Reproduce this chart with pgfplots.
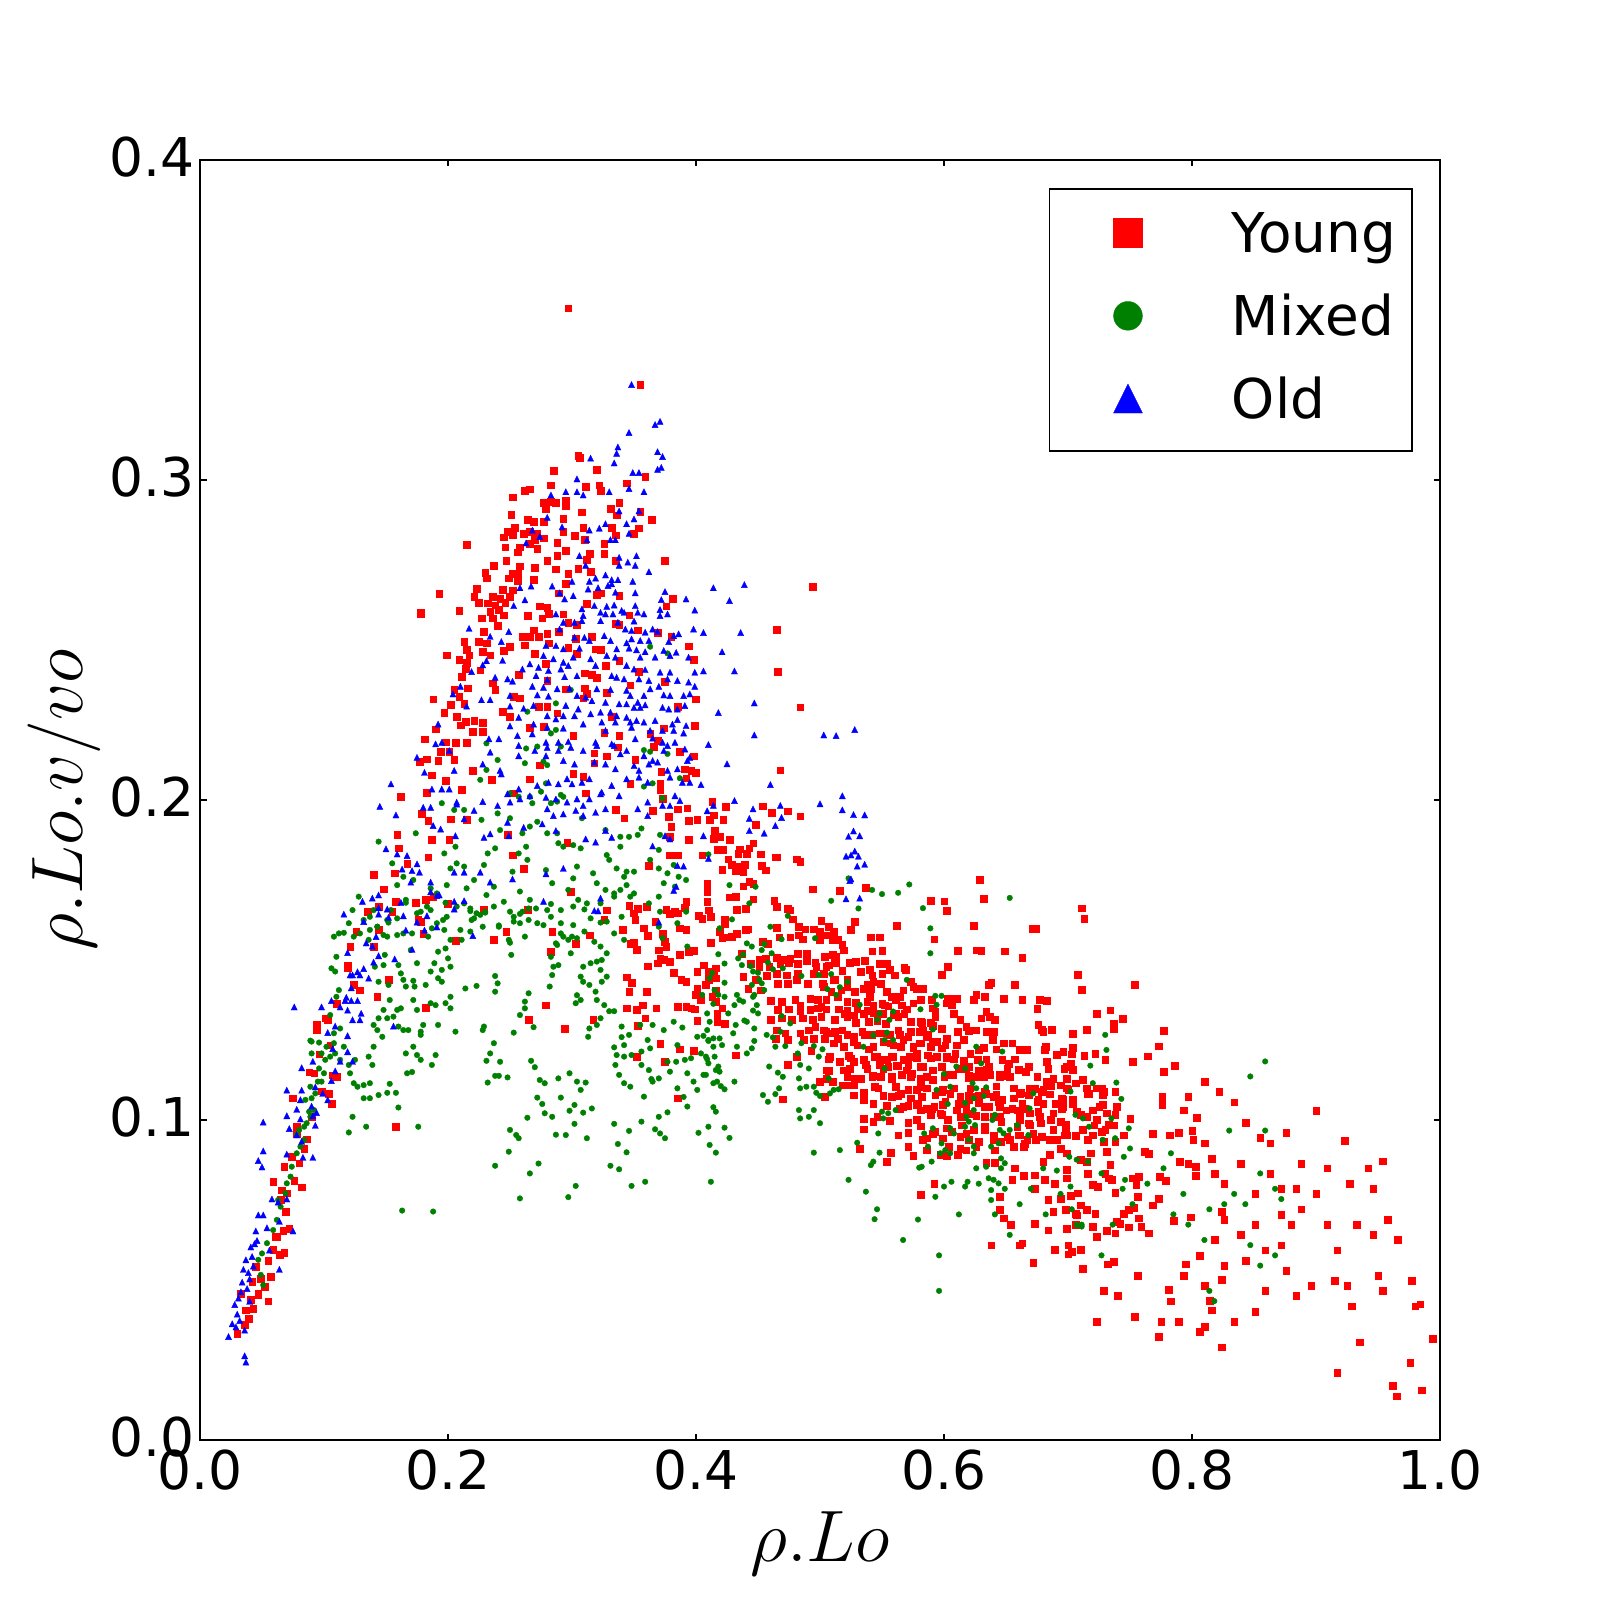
\documentclass[border=0pt]{standalone}
\usepackage{fontspec}
\setmainfont{DejaVu Sans}
\usepackage{pgfplots}
\pgfplotsset{compat=1.18}
\definecolor{mygreen}{rgb}{0,0.5,0}
\pgfplotsset{mylegimg/.style={legend image code/.code={\path[draw=none,fill=none] (-6.25mm,-2.8mm) rectangle (1.5mm,2.0mm); \draw[##1] plot coordinates {(0mm,0mm)};}}}
\begin{document}
\begin{tikzpicture}
\useasboundingbox (0,0) rectangle (16cm,16cm);
\begin{axis}[
 at={(2cm,1.6cm)}, anchor=south west, scale only axis, width=12.4cm, height=12.8cm,
 xmin=0, xmax=1, ymin=0, ymax=0.4,
 xtick={0,0.2,0.4,0.6,0.8,1}, ytick={0,0.1,0.2,0.3,0.4},
 minor tick num=0, tick align=inside, major tick length=0.65mm,
 every tick/.style={black, line width=0.3pt},
 ticklabel style={font=\fontsize{15.2}{18}\selectfont},
 /pgf/number format/assume math mode=true,
 xticklabel style={/pgf/number format/fixed, /pgf/number format/fixed zerofill, /pgf/number format/precision=1, inner ysep=0.9mm},
 yticklabel style={/pgf/number format/fixed, /pgf/number format/fixed zerofill, /pgf/number format/precision=1, inner xsep=0.5mm, yshift=0.3mm},
 xlabel={$\rho.Lo$}, ylabel={$\rho.Lo.v/vo$},
 label style={font=\fontsize{20.74}{25}\selectfont},
 xlabel style={at={(axis description cs:0.5,-0.0953)}, anchor=base},
 ylabel style={at={(axis description cs:-0.0944,0.5)}, anchor=base},
 legend style={at={(0.978,0.978)}, anchor=north east, draw=black, font=\fontsize{15.6}{18}\selectfont,
   inner xsep=1.6mm, inner ysep=2.4mm, row sep=3.5mm, column sep=8.9mm,
   nodes={inner sep=0pt, text height=3.9mm, text depth=0pt}},
 legend cell align=left,
 legend entries={Young,Mixed,Old},
]
\addlegendimage{only marks, mark=square*, mark size=4.1pt, red, mark options={draw=red, fill=red, line width=0.1pt}, mylegimg}
\addlegendimage{only marks, mark=*, mark size=4.1pt, mygreen, mark options={draw=mygreen, fill=mygreen, line width=0.1pt}, mylegimg}
\addlegendimage{only marks, mark=triangle*, mark size=4.76pt, blue, mark options={draw=blue, fill=blue, line width=0.1pt, yshift=-0.45mm, yscale=1.155}, mylegimg}

% Young
\addplot[forget plot, only marks, mark=square*, mark size=0.95pt, red, mark options={draw=red, fill=red, line width=0.1pt}] coordinates {
(0.306,0.307)(0.285,0.303)(0.359,0.301)(0.311,0.298)(0.322,0.2984)(0.323,0.2967)(0.283,0.2984)(0.344,0.299)(0.266,0.2971)(0.262,0.2967)(0.252,0.2946)(0.277,0.2929)(0.283,0.2932)(0.287,0.2929)(0.295,0.2935)(0.295,0.2919)(0.279,0.2911)(0.338,0.2929)(0.331,0.2911)(0.308,0.2899)(0.355,0.29)(0.251,0.2891)(0.336,0.289)(0.293,0.288)(0.364,0.2877)(0.277,0.287)(0.264,0.2877)(0.269,0.287)(0.332,0.2852)(0.309,0.2852)(0.354,0.2849)(0.248,0.2839)(0.254,0.2852)(0.261,0.2833)(0.266,0.2839)(0.272,0.2833)(0.293,0.2839)(0.302,0.2825)(0.335,0.2828)(0.350,0.2833)(0.245,0.2821)(0.252,0.2828)(0.270,0.2813)(0.277,0.2818)(0.288,0.2804)(0.310,0.2813)(0.326,0.28)(0.215,0.2797)(0.246,0.279)(0.258,0.279)(0.266,0.2802)(0.272,0.2785)(0.314,0.2769)(0.295,0.2779)(0.256,0.2774)(0.288,0.2763)(0.326,0.2769)(0.312,0.275)(0.335,0.2748)(0.375,0.2748)(0.247,0.2747)(0.280,0.2747)(0.258,0.2731)(0.237,0.2732)(0.270,0.2727)(0.287,0.2721)(0.305,0.2722)(0.315,0.2714)(0.230,0.271)(0.252,0.2708)(0.256,0.2708)(0.297,0.2708)(0.231,0.2693)(0.249,0.2693)(0.256,0.2685)(0.269,0.2688)(0.295,0.2677)(0.223,0.2661)(0.244,0.2658)(0.252,0.2656)(0.289,0.2646)(0.320,0.2641)(0.338,0.2638)(0.193,0.2644)(0.221,0.2635)(0.236,0.2635)(0.242,0.263)(0.250,0.2635)(0.323,0.2646)(0.381,0.263)(0.225,0.2617)(0.232,0.2615)(0.238,0.2609)(0.246,0.2617)(0.274,0.2606)(0.280,0.2602)(0.312,0.2613)(0.376,0.2606)(0.209,0.2592)(0.234,0.2589)(0.241,0.2594)(0.281,0.2583)(0.293,0.2581)(0.346,0.2578)(0.178,0.2583)(0.227,0.2568)(0.236,0.2568)(0.245,0.2578)(0.264,0.2575)(0.276,0.2568)(0.297,0.2554)(0.304,0.2547)(0.335,0.2552)(0.338,0.2547)(0.240,0.2544)(0.269,0.2531)(0.229,0.2526)(0.369,0.2523)(0.353,0.2531)(0.260,0.251)(0.266,0.251)(0.273,0.251)(0.280,0.2519)(0.289,0.2526)(0.303,0.2505)(0.316,0.251)(0.380,0.251)(0.213,0.2495)(0.225,0.2495)(0.231,0.249)(0.250,0.2479)(0.262,0.2484)(0.281,0.249)(0.297,0.2477)(0.319,0.2471)(0.394,0.2481)(0.215,0.2469)(0.228,0.2464)(0.245,0.2466)(0.304,0.2458)(0.323,0.2469)(0.199,0.2453)(0.217,0.2453)(0.234,0.2453)(0.270,0.2458)(0.338,0.2435)(0.398,0.2439)(0.209,0.2438)(0.215,0.2429)(0.279,0.2427)(0.327,0.2419)(0.354,0.2401)(0.214,0.2411)(0.226,0.2406)(0.211,0.2385)(0.310,0.2396)(0.316,0.2391)(0.320,0.2383)(0.347,0.2359)(0.375,0.237)(0.236,0.2365)(0.238,0.2344)(0.257,0.2391)(0.280,0.2373)(0.295,0.2346)(0.310,0.2349)(0.205,0.2344)(0.209,0.2323)(0.216,0.2349)(0.188,0.2315)(0.213,0.2302)(0.253,0.2323)(0.258,0.2318)(0.312,0.2333)(0.309,0.2318)(0.328,0.2335)(0.400,0.2315)(0.202,0.2297)(0.273,0.2292)(0.280,0.2292)(0.288,0.2271)(0.385,0.2292)(0.197,0.2273)(0.207,0.226)(0.244,0.2276)(0.250,0.226)(0.332,0.226)(0.214,0.2245)(0.221,0.2248)(0.228,0.2242)(0.266,0.2227)(0.277,0.2229)(0.374,0.2224)(0.399,0.2233)(0.210,0.2234)(0.220,0.2214)(0.228,0.2214)(0.326,0.221)(0.363,0.2208)(0.190,0.2221)(0.181,0.219)(0.301,0.22)(0.338,0.22)(0.369,0.2185)(0.198,0.2181)(0.206,0.2179)(0.215,0.2179)(0.194,0.2151)(0.201,0.2151)(0.318,0.2146)(0.337,0.2165)(0.366,0.2167)(0.387,0.2151)(0.398,0.2137)(0.183,0.2128)(0.192,0.2123)(0.205,0.2125)(0.274,0.2109)(0.318,0.2115)(0.328,0.2137)(0.351,0.2125)(0.391,0.2096)(0.396,0.2092)(0.177,0.212)(0.220,0.2092)(0.235,0.2063)(0.301,0.2083)(0.309,0.2073)(0.372,0.2089)(0.400,0.2085)(0.392,0.2068)(0.187,0.2078)(0.198,0.206)(0.266,0.2065)(0.347,0.2052)(0.371,0.2031)(0.183,0.2023)(0.211,0.2033)(0.253,0.2021)(0.311,0.2021)(0.371,0.2052)(0.162,0.201)(0.373,0.2005)(0.385,0.1971)(0.393,0.1974)(0.401,0.1938)(0.179,0.1958)(0.184,0.1935)(0.202,0.194)(0.215,0.1938)(0.335,0.1969)(0.365,0.1967)(0.378,0.1948)(0.342,0.1943)(0.394,0.1935)(0.380,0.1917)(0.159,0.1891)(0.187,0.1875)(0.201,0.1877)(0.248,0.1891)(0.296,0.1867)(0.394,0.1875)(0.379,0.1885)(0.160,0.1849)(0.167,0.1802)(0.184,0.1821)(0.252,0.1828)(0.379,0.1828)(0.385,0.1828)(0.140,0.1766)(0.157,0.1771)(0.261,0.1786)(0.362,0.1794)(0.148,0.1721)(0.182,0.1688)(0.188,0.1698)(0.200,0.1677)(0.264,0.1658)(0.299,0.1714)(0.376,0.1658)(0.383,0.1651)(0.391,0.1664)(0.144,0.1594)(0.155,0.1651)(0.176,0.1625)(0.237,0.1563)(0.284,0.1589)(0.314,0.1578)(0.347,0.1552)(0.392,0.1594)(0.140,0.1542)
(0.297,0.3537)(0.355,0.3298)(0.305,0.3075)(0.320,0.3033)(0.494,0.2667)(0.465,0.2533)(0.466,0.240)(0.484,0.229)(0.468,0.2093)(0.474,0.1965)(0.484,0.1949)(0.464,0.1821)(0.178,0.2587)
(0.030,0.0333)(0.033,0.0458)(0.037,0.0406)(0.041,0.0438)(0.039,0.038)(0.047,0.0458)(0.042,0.0495)(0.049,0.0505)(0.045,0.0542)(0.055,0.0434)(0.057,0.051)(0.059,0.0594)(0.068,0.0586)(0.067,0.0654)(0.062,0.0635)(0.059,0.0807)(0.066,0.0781)(0.069,0.0714)(0.070,0.0771)(0.065,0.075)(0.068,0.0854)(0.074,0.0885)(0.080,0.0865)(0.078,0.0958)(0.084,0.0911)(0.075,0.1068)(0.078,0.0979)(0.092,0.1146)(0.088,0.1149)(0.096,0.1206)(0.106,0.1052)(0.110,0.1135)(0.104,0.1083)(0.107,0.114)(0.094,0.1297)(0.094,0.1281)(0.103,0.1313)(0.101,0.1318)(0.105,0.1234)(0.110,0.1363)(0.121,0.1542)(0.119,0.1484)(0.119,0.1474)(0.129,0.1406)(0.124,0.1422)(0.143,0.1385)(0.152,0.1438)(0.126,0.1589)(0.135,0.1651)(0.144,0.1667)(0.158,0.1682)(0.174,0.1679)(0.178,0.162)(0.180,0.1583)(0.206,0.156)(0.158,0.0979)(0.182,0.1352)(0.229,0.1658)(0.247,0.1589)(0.279,0.1359)(0.265,0.1313)(0.294,0.1286)(0.283,0.1526)(0.303,0.1552)(0.328,0.1656)(0.326,0.1627)(0.317,0.1313)
(0.061,0.0635)(0.055,0.056)(0.047,0.0453)(0.036,0.036)(0.043,0.041)(0.052,0.048)(0.064,0.058)(0.072,0.066)(0.076,0.081)(0.082,0.079)(0.086,0.094)(0.090,0.101)(0.098,0.109)
(0.346,0.1669)(0.353,0.1661)(0.360,0.1667)(0.350,0.1646)(0.351,0.1625)(0.358,0.1599)(0.367,0.162)(0.379,0.1644)(0.385,0.1646)(0.392,0.1682)(0.402,0.1638)(0.405,0.163)(0.387,0.1599)(0.373,0.1583)(0.361,0.1575)(0.341,0.1594)(0.350,0.1554)(0.352,0.1533)(0.370,0.1531)(0.375,0.1557)(0.376,0.1542)(0.371,0.1505)(0.369,0.149)(0.374,0.15)(0.379,0.1495)(0.387,0.1516)(0.394,0.1526)(0.398,0.1529)(0.361,0.1481)(0.382,0.146)(0.406,0.1484)(0.410,0.1464)(0.416,0.1474)(0.401,0.1464)(0.344,0.1446)(0.348,0.1429)(0.388,0.1438)(0.392,0.1432)(0.408,0.1422)(0.414,0.145)(0.346,0.1401)(0.360,0.1401)(0.401,0.1411)(0.416,0.1406)(0.400,0.1391)(0.404,0.1375)(0.413,0.1385)(0.416,0.137)(0.344,0.1349)(0.352,0.1344)(0.368,0.1349)(0.357,0.1359)(0.385,0.1354)(0.392,0.1354)(0.396,0.1349)(0.399,0.1346)(0.417,0.1333)(0.359,0.1318)(0.401,0.131)(0.417,0.1307)(0.353,0.1294)(0.371,0.1238)(0.387,0.1221)(0.398,0.1217)(0.352,0.1198)(0.375,0.1182)(0.385,0.1068)
(0.413,0.1995)(0.424,0.1979)(0.454,0.1981)(0.461,0.196)(0.414,0.1953)(0.422,0.1938)(0.411,0.1938)(0.448,0.1922)(0.415,0.1904)(0.419,0.1885)(0.414,0.188)(0.427,0.1877)(0.446,0.1865)(0.443,0.1849)(0.435,0.1846)(0.422,0.1844)(0.417,0.1844)(0.441,0.1833)(0.434,0.1833)(0.452,0.1831)(0.405,0.1828)(0.426,0.1815)(0.465,0.1821)(0.481,0.1815)(0.484,0.1807)(0.429,0.1797)(0.439,0.1797)(0.433,0.1792)(0.453,0.1794)(0.421,0.1783)(0.432,0.1779)(0.438,0.1776)(0.456,0.1781)(0.409,0.1738)(0.443,0.1745)(0.446,0.1738)(0.438,0.1731)(0.494,0.1721)(0.516,0.1717)(0.537,0.1727)(0.409,0.1714)(0.427,0.1696)(0.432,0.1698)(0.446,0.169)(0.463,0.1685)(0.465,0.1667)(0.409,0.1682)(0.410,0.1656)(0.433,0.1658)(0.440,0.1661)(0.412,0.1635)(0.474,0.1661)(0.476,0.1656)(0.423,0.1625)(0.478,0.1628)(0.501,0.1623)(0.423,0.1613)(0.440,0.1594)(0.442,0.1596)(0.465,0.1601)(0.483,0.1604)(0.488,0.1596)(0.495,0.1596)(0.507,0.1604)(0.525,0.1594)(0.562,0.1608)(0.589,0.1685)(0.602,0.1654)(0.629,0.175)(0.632,0.1692)
(0.419,0.1589)(0.421,0.1568)(0.425,0.1571)(0.429,0.1573)(0.433,0.1583)(0.412,0.1554)(0.454,0.1557)(0.458,0.1552)(0.467,0.1571)(0.476,0.1571)(0.483,0.1578)(0.486,0.1565)(0.500,0.1589)(0.505,0.1578)(0.511,0.1589)(0.500,0.1563)(0.510,0.1563)(0.514,0.1563)(0.541,0.1571)(0.548,0.1571)(0.518,0.1547)(0.519,0.1531)(0.550,0.1529)(0.592,0.1565)(0.611,0.1529)(0.626,0.1531)(0.630,0.1529)(0.663,0.1508)(0.437,0.1519)(0.451,0.15)(0.456,0.1505)(0.465,0.1508)(0.470,0.1502)(0.476,0.1505)(0.482,0.1519)(0.489,0.1521)(0.496,0.1492)(0.504,0.151)(0.510,0.1516)(0.513,0.151)(0.444,0.1489)(0.451,0.1479)(0.459,0.1479)(0.468,0.1488)(0.475,0.1492)(0.482,0.1489)(0.489,0.1498)(0.497,0.1479)(0.507,0.1484)(0.512,0.1495)(0.524,0.1492)(0.529,0.1495)(0.536,0.1498)(0.568,0.1477)(0.603,0.1479)(0.438,0.1448)(0.448,0.1438)(0.457,0.145)(0.465,0.1458)(0.473,0.1453)(0.482,0.1458)(0.495,0.1458)(0.503,0.1458)(0.518,0.1467)(0.533,0.1464)(0.540,0.1469)(0.550,0.1458)(0.556,0.1469)(0.569,0.1469)(0.543,0.1432)(0.573,0.1432)(0.598,0.1455)(0.636,0.1422)(0.638,0.1429)(0.657,0.1422)(0.410,0.1438)(0.416,0.1443)(0.442,0.1411)(0.452,0.1406)(0.466,0.1425)(0.474,0.1425)(0.481,0.1438)(0.490,0.1427)(0.502,0.1427)(0.511,0.1438)(0.522,0.1417)(0.535,0.1411)(0.541,0.1411)(0.558,0.1385)(0.564,0.1385)(0.578,0.1411)(0.603,0.138)(0.608,0.138)(0.624,0.1375)(0.633,0.1385)(0.648,0.138)(0.663,0.1377)(0.677,0.1377)(0.683,0.1372)(0.675,0.1347)
(0.460,0.1373)(0.469,0.137)(0.480,0.1375)(0.484,0.1359)(0.492,0.138)(0.498,0.1375)(0.505,0.1375)(0.514,0.1385)(0.522,0.137)(0.529,0.1367)(0.538,0.137)(0.543,0.1359)(0.550,0.1363)(0.555,0.1356)(0.566,0.1359)(0.575,0.1365)(0.421,0.1349)(0.466,0.1344)(0.475,0.1346)(0.484,0.1342)(0.492,0.1344)(0.498,0.1349)(0.505,0.1346)(0.515,0.1346)(0.522,0.1342)(0.530,0.1346)(0.538,0.1342)(0.543,0.1335)(0.551,0.1333)(0.559,0.1328)(0.568,0.1333)(0.593,0.1339)(0.608,0.1333)(0.630,0.1318)(0.637,0.1323)(0.737,0.1302)(0.460,0.1313)(0.469,0.1318)(0.477,0.1313)(0.486,0.1318)(0.494,0.1313)(0.501,0.1323)(0.512,0.1313)(0.522,0.1321)(0.529,0.1304)(0.539,0.1307)(0.546,0.131)(0.553,0.13)(0.563,0.1323)(0.573,0.1307)(0.582,0.1304)(0.589,0.1304)(0.598,0.1286)(0.618,0.1292)(0.620,0.1279)(0.679,0.1283)(0.687,0.1283)(0.423,0.1302)(0.465,0.1281)(0.472,0.1271)(0.484,0.1271)(0.491,0.1281)(0.496,0.1292)(0.503,0.1281)(0.508,0.1271)(0.518,0.1281)(0.527,0.126)(0.536,0.1266)(0.548,0.1271)(0.556,0.1266)(0.564,0.1266)(0.571,0.126)(0.580,0.1276)(0.587,0.1266)(0.464,0.1255)(0.474,0.1252)(0.487,0.125)(0.495,0.1255)(0.504,0.1255)(0.514,0.1255)(0.519,0.1229)(0.530,0.1234)(0.539,0.1221)(0.551,0.1245)(0.559,0.1234)(0.567,0.125)(0.575,0.1231)(0.580,0.124)(0.589,0.1229)(0.598,0.1224)(0.610,0.1234)(0.632,0.1227)(0.642,0.1221)(0.648,0.124)(0.655,0.124)(0.667,0.1219)(0.682,0.1229)(0.696,0.1214)(0.704,0.1227)
(0.432,0.1203)(0.481,0.1198)(0.493,0.1216)(0.507,0.119)(0.523,0.12)(0.527,0.1182)(0.544,0.1198)(0.548,0.1188)(0.559,0.1198)(0.567,0.1188)(0.572,0.1198)(0.578,0.1208)(0.589,0.1193)(0.594,0.1198)(0.602,0.1198)(0.608,0.119)(0.616,0.1185)(0.627,0.1188)(0.652,0.1175)(0.683,0.1182)(0.702,0.1177)(0.703,0.1206)(0.704,0.1158)(0.474,0.1172)(0.507,0.1154)(0.537,0.1172)(0.551,0.1161)(0.562,0.1169)(0.570,0.1156)(0.581,0.1167)(0.591,0.1156)(0.598,0.1167)(0.612,0.1161)(0.620,0.1167)(0.634,0.1158)(0.660,0.1158)(0.666,0.1151)(0.786,0.1169)(0.533,0.113)(0.543,0.1138)(0.549,0.1135)(0.558,0.113)(0.566,0.1141)(0.574,0.1144)(0.586,0.1135)(0.591,0.1127)(0.600,0.1135)(0.607,0.1141)(0.620,0.1133)(0.637,0.1141)(0.645,0.1135)(0.651,0.1138)(0.675,0.1135)(0.683,0.112)(0.694,0.1109)(0.699,0.1099)(0.706,0.1115)(0.712,0.1127)(0.723,0.1099)(0.727,0.1099)(0.776,0.1073)(0.776,0.1047)(0.500,0.112)(0.510,0.112)(0.520,0.1109)(0.527,0.1109)(0.535,0.1085)(0.544,0.1104)(0.551,0.1075)(0.558,0.1073)(0.565,0.1083)(0.571,0.1094)(0.581,0.1104)(0.586,0.1099)(0.595,0.1089)(0.599,0.1094)(0.605,0.1083)(0.613,0.1073)(0.620,0.1075)(0.628,0.1078)(0.634,0.1083)(0.642,0.1081)(0.662,0.1085)(0.668,0.1078)(0.673,0.1097)(0.680,0.1094)(0.685,0.1081)(0.695,0.1068)(0.704,0.1063)(0.716,0.1083)(0.725,0.1042)
(0.535,0.1063)(0.554,0.1044)(0.564,0.1036)(0.571,0.1044)(0.579,0.1052)(0.586,0.1036)(0.592,0.1042)(0.599,0.1047)(0.612,0.1052)(0.618,0.1026)(0.628,0.1054)(0.636,0.1042)(0.644,0.1057)(0.650,0.1031)(0.655,0.1036)(0.669,0.1021)(0.676,0.1063)(0.688,0.1021)(0.695,0.1036)(0.720,0.1031)(0.728,0.1047)(0.793,0.1031)(0.535,0.1005)(0.543,0.0995)(0.556,0.0998)(0.571,0.0992)(0.578,0.1)(0.589,0.1016)(0.597,0.1021)(0.603,0.1)(0.613,0.101)(0.621,0.1019)(0.633,0.101)(0.640,0.101)(0.646,0.0995)(0.661,0.1)(0.668,0.099)(0.677,0.101)(0.694,0.0995)(0.710,0.1016)(0.723,0.1)(0.738,0.1016)(0.750,0.1005)(0.804,0.1008)(0.571,0.0917)(0.586,0.0943)(0.591,0.0958)(0.599,0.0943)(0.606,0.0964)(0.613,0.0948)(0.618,0.0958)(0.628,0.0932)(0.633,0.0979)(0.640,0.095)(0.646,0.0932)(0.653,0.0938)(0.661,0.0953)(0.665,0.0927)(0.672,0.0958)(0.679,0.0948)(0.685,0.0938)(0.691,0.0938)(0.699,0.0953)(0.706,0.095)(0.712,0.0969)(0.716,0.0938)(0.720,0.0953)(0.730,0.0969)(0.737,0.0984)(0.745,0.0953)(0.768,0.0958)(0.782,0.0953)(0.800,0.0966)(0.801,0.0938)
(0.575,0.0888)(0.557,0.0898)(0.554,0.087)(0.586,0.0906)(0.602,0.0888)(0.611,0.0891)(0.618,0.0906)(0.634,0.0867)(0.641,0.0867)(0.657,0.0849)(0.655,0.0813)(0.664,0.0825)(0.673,0.0828)(0.680,0.087)(0.681,0.0813)(0.689,0.0802)(0.694,0.0911)(0.699,0.0844)(0.699,0.0818)(0.710,0.0875)(0.715,0.087)(0.716,0.0833)(0.720,0.0797)(0.724,0.0792)(0.730,0.0833)(0.734,0.086)(0.733,0.0818)(0.735,0.0813)(0.752,0.0818)(0.755,0.0797)(0.762,0.0901)(0.765,0.0894)(0.757,0.0823)(0.774,0.0823)(0.779,0.081)(0.790,0.087)(0.803,0.0854)(0.803,0.0825)(0.816,0.088)(0.645,0.076)(0.673,0.0786)(0.684,0.075)(0.694,0.0755)(0.702,0.0763)(0.708,0.0771)(0.710,0.0734)(0.688,0.0714)(0.698,0.0719)(0.706,0.0708)(0.715,0.0719)(0.722,0.0708)(0.738,0.0773)(0.745,0.0708)(0.749,0.072)(0.753,0.0727)(0.756,0.076)(0.739,0.0682)(0.742,0.0677)(0.749,0.0665)(0.738,0.0646)(0.731,0.0654)(0.723,0.0635)(0.720,0.0667)(0.757,0.0693)(0.759,0.0667)(0.765,0.0646)(0.768,0.0734)(0.773,0.0755)(0.785,0.0685)(0.799,0.0696)(0.795,0.0549)(0.781,0.0469)(0.814,0.0435)(0.816,0.0406)(0.824,0.0714)(0.824,0.05)(0.699,0.0661)(0.707,0.0703)(0.706,0.0672)(0.700,0.0609)(0.710,0.0595)(0.703,0.0589)(0.689,0.0594)(0.700,0.0581)(0.672,0.0555)(0.684,0.0656)(0.673,0.0675)(0.661,0.0609)(0.663,0.0615)(0.654,0.0672)(0.648,0.0693)(0.638,0.0609)(0.712,0.0536)(0.732,0.0549)(0.737,0.0557)(0.645,0.0719)(0.532,0.0911)(0.581,0.0766)(0.597,0.0891)(0.592,0.0802)(0.470,0.1065)
(0.789,0.096)(0.797,0.0864)(0.810,0.0928)(0.818,0.0833)(0.826,0.0801)(0.839,0.0864)(0.851,0.0769)(0.863,0.0833)(0.851,0.0673)(0.839,0.0641)(0.826,0.0689)(0.818,0.0625)(0.806,0.0577)(0.793,0.0514)(0.810,0.0482)(0.826,0.0545)(0.843,0.0561)(0.859,0.0593)(0.872,0.0609)(0.876,0.053)(0.880,0.0673)(0.888,0.0721)(0.900,0.0769)(0.909,0.0849)(0.900,0.103)(0.909,0.0673)(0.917,0.0593)(0.925,0.0482)(0.896,0.0482)(0.884,0.045)(0.859,0.0466)(0.851,0.0402)(0.834,0.037)(0.810,0.0354)(0.806,0.0338)(0.824,0.029)(0.775,0.037)(0.773,0.0322)(0.789,0.037)(0.754,0.0386)(0.723,0.037)(0.729,0.0466)(0.740,0.045)(0.756,0.0514)(0.783,0.0434)(0.863,0.0928)(0.876,0.096)(0.888,0.0864)(0.884,0.0785)(0.872,0.0785)(0.872,0.0705)(0.855,0.0944)(0.843,0.0992)(0.834,0.1056)(0.822,0.1088)(0.810,0.112)(0.797,0.1072)(0.777,0.1152)(0.764,0.1199)(0.752,0.1183)(0.744,0.1317)(0.734,0.1343)(0.711,0.1407)(0.713,0.163)(0.711,0.1662)(0.674,0.1598)(0.649,0.1528)(0.708,0.1455)(0.754,0.1423)(0.773,0.1231)(0.777,0.1279)
(0.927,0.080)(0.933,0.0673)(0.942,0.0849)(0.946,0.0785)(0.946,0.0641)(0.958,0.0689)(0.966,0.0625)(0.950,0.0514)(0.915,0.0498)(0.929,0.0418)(0.954,0.0466)(0.935,0.0306)(0.917,0.0211)(0.962,0.0169)(0.965,0.0137)(0.985,0.0156)(0.976,0.0242)(0.980,0.0418)(0.984,0.0424)(0.977,0.0498)(0.994,0.0316)(0.923,0.0935)(0.954,0.0871)
(0.528,0.162)(0.542,0.1528)(0.600,0.1684)(0.624,0.1608)(0.671,0.1598)(0.591,0.1295)
(0.548,0.1488)(0.554,0.1488)(0.513,0.149)(0.505,0.1479)(0.560,0.1453)(0.542,0.1453)(0.522,0.1438)(0.512,0.1438)(0.538,0.1422)(0.549,0.1427)(0.528,0.14)(0.554,0.14)(0.567,0.1406)(0.575,0.1417)(0.583,0.1411)(0.503,0.1417)(0.509,0.14)(0.517,0.1406)(0.540,0.1385)(0.552,0.1359)(0.561,0.1377)(0.581,0.1375)(0.590,0.1377)(0.610,0.138)(0.626,0.1391)(0.602,0.1365)(0.606,0.1359)(0.591,0.1349)(0.501,0.1354)(0.520,0.1333)(0.527,0.1328)(0.535,0.1333)(0.548,0.1333)(0.561,0.1333)(0.570,0.1346)(0.581,0.1307)(0.593,0.1323)(0.613,0.1313)(0.634,0.1339)(0.641,0.1313)(0.505,0.1276)(0.512,0.1276)(0.522,0.1266)(0.534,0.1276)(0.542,0.1266)(0.551,0.1271)(0.563,0.1281)(0.573,0.1276)(0.583,0.1281)(0.586,0.126)(0.594,0.1245)(0.602,0.1255)(0.611,0.1276)(0.621,0.1281)(0.626,0.1281)(0.634,0.1276)(0.640,0.1276)(0.676,0.1297)(0.680,0.1276)(0.704,0.1269)(0.715,0.1283)(0.723,0.1333)(0.737,0.1286)(0.511,0.124)(0.527,0.1245)(0.543,0.1229)(0.557,0.124)(0.565,0.1229)(0.575,0.1224)(0.581,0.124)(0.591,0.1245)(0.601,0.1234)(0.616,0.125)(0.628,0.1219)(0.639,0.125)(0.661,0.1219)(0.681,0.1219)(0.691,0.1205)(0.508,0.1198)(0.516,0.1182)(0.525,0.1193)(0.535,0.1188)(0.546,0.1198)(0.554,0.1188)(0.558,0.1198)(0.578,0.1193)(0.587,0.1203)(0.602,0.1193)(0.609,0.1208)(0.621,0.1208)(0.634,0.119)(0.647,0.1188)(0.657,0.119)(0.668,0.1167)(0.699,0.1167)(0.713,0.12)(0.722,0.1208)(0.730,0.1188)
(0.505,0.1156)(0.519,0.1156)(0.524,0.1161)(0.538,0.1161)(0.548,0.1172)(0.555,0.1167)(0.563,0.1169)(0.571,0.1172)(0.583,0.1167)(0.591,0.1156)(0.618,0.1161)(0.628,0.1156)(0.636,0.1167)(0.651,0.1161)(0.684,0.1161)(0.697,0.1161)(0.505,0.113)(0.522,0.1135)(0.528,0.113)(0.542,0.1135)(0.558,0.1135)(0.573,0.1135)(0.581,0.113)(0.604,0.1141)(0.620,0.1138)(0.626,0.1135)(0.632,0.1135)(0.645,0.1141)(0.653,0.1135)(0.688,0.113)(0.699,0.113)(0.518,0.1109)(0.526,0.1109)(0.547,0.1099)(0.561,0.1104)(0.571,0.1094)(0.578,0.1094)(0.598,0.1089)(0.608,0.1099)(0.621,0.1099)(0.633,0.1089)(0.642,0.1106)(0.656,0.1099)(0.661,0.1083)(0.669,0.1099)(0.679,0.1089)(0.686,0.1106)(0.700,0.1094)(0.715,0.1099)(0.729,0.1089)(0.738,0.1089)(0.504,0.1073)(0.527,0.1078)(0.543,0.1052)(0.563,0.1075)(0.573,0.1068)(0.582,0.1073)(0.593,0.1078)(0.601,0.1057)(0.620,0.1063)(0.626,0.1073)(0.640,0.1073)(0.647,0.1063)(0.656,0.1068)(0.663,0.1052)(0.675,0.1057)(0.680,0.1052)(0.690,0.1052)(0.696,0.1063)(0.704,0.1052)(0.717,0.1083)(0.728,0.1078)(0.567,0.1042)(0.578,0.1047)(0.590,0.1036)(0.610,0.1031)(0.618,0.1042)(0.633,0.1042)(0.645,0.1042)(0.659,0.1031)(0.665,0.1036)(0.676,0.1026)(0.696,0.1042)(0.707,0.1026)(0.715,0.101)(0.731,0.1021)(0.739,0.1042)(0.546,0.101)(0.581,0.1031)(0.598,0.1016)(0.616,0.101)(0.626,0.1013)(0.645,0.101)(0.661,0.101)(0.686,0.1)(0.698,0.0986)(0.721,0.0984)(0.733,0.0986)(0.535,0.0971)(0.581,0.0981)(0.593,0.0964)(0.602,0.0974)(0.614,0.0984)(0.624,0.0969)(0.633,0.0969)(0.659,0.0979)(0.660,0.0953)(0.669,0.0984)(0.678,0.099)(0.688,0.0969)(0.698,0.0964)(0.727,0.0964)(0.563,0.0953)(0.571,0.096)(0.583,0.0938)(0.620,0.0938)(0.640,0.0938)(0.651,0.0948)(0.667,0.0938)(0.674,0.0938)(0.688,0.0938)(0.697,0.0953)(0.716,0.094)(0.729,0.0932)(0.738,0.0932)(0.604,0.0917)(0.613,0.0911)(0.626,0.0917)(0.641,0.0906)(0.656,0.0917)(0.664,0.0917)(0.685,0.0891)(0.699,0.0896)(0.718,0.0896)(0.731,0.0901)
};

% Mixed
\addplot[forget plot, only marks, mark=*, mark size=0.8pt, mygreen, mark options={draw=mygreen, fill=mygreen, line width=0.1pt}] coordinates {
(0.051,0.0484)(0.049,0.0516)(0.047,0.0563)(0.050,0.0583)(0.054,0.0615)(0.059,0.0656)(0.062,0.0688)(0.065,0.0729)(0.063,0.075)(0.069,0.0771)(0.070,0.0802)(0.073,0.0823)(0.074,0.0854)(0.078,0.0896)(0.081,0.0917)(0.084,0.0938)(0.078,0.0953)(0.080,0.0969)(0.084,0.0979)(0.086,0.099)(0.089,0.101)(0.088,0.1026)(0.092,0.1031)(0.085,0.1063)(0.090,0.1068)(0.093,0.1083)(0.089,0.1104)(0.095,0.112)(0.098,0.112)(0.100,0.1146)(0.096,0.1161)(0.101,0.1188)(0.105,0.1198)(0.098,0.1208)(0.102,0.1229)(0.108,0.124)(0.109,0.1208)(0.116,0.1229)(0.113,0.1188)(0.120,0.1172)(0.125,0.1188)(0.121,0.1146)(0.124,0.1115)(0.127,0.1104)(0.132,0.1109)(0.137,0.1115)(0.144,0.1078)(0.137,0.1068)(0.132,0.1068)(0.123,0.101)(0.120,0.0961)(0.134,0.0979)(0.160,0.1039)(0.176,0.0979)(0.163,0.0717)(0.090,0.1245)(0.096,0.1242)(0.089,0.1248)(0.090,0.1208)(0.108,0.1271)(0.113,0.1286)(0.105,0.1328)(0.110,0.1385)(0.112,0.1406)(0.109,0.1464)(0.106,0.1474)(0.110,0.151)(0.108,0.1573)(0.112,0.1583)(0.116,0.1585)(0.120,0.1615)(0.123,0.1656)(0.132,0.1625)(0.137,0.1635)(0.137,0.1594)(0.136,0.1563)(0.143,0.1604)(0.148,0.1578)(0.149,0.1516)(0.148,0.1484)(0.141,0.1479)(0.144,0.1432)(0.152,0.1422)(0.153,0.1375)(0.148,0.1344)(0.144,0.1318)(0.140,0.1297)(0.143,0.1281)(0.147,0.126)(0.140,0.1229)(0.136,0.1198)(0.139,0.1172)(0.151,0.1318)(0.156,0.1323)(0.159,0.1344)(0.162,0.1349)(0.160,0.1292)(0.164,0.1281)(0.168,0.1281)(0.178,0.1276)(0.180,0.1297)(0.178,0.1266)(0.172,0.1229)(0.166,0.1208)(0.175,0.1203)(0.178,0.1188)(0.190,0.1203)(0.187,0.1172)(0.171,0.115)(0.167,0.1146)(0.153,0.1113)(0.151,0.1085)(0.158,0.1085)(0.192,0.1297)(0.206,0.1276)(0.202,0.1349)(0.198,0.1365)(0.186,0.1365)(0.190,0.1359)(0.175,0.1344)(0.172,0.1375)(0.166,0.1417)(0.173,0.1417)(0.182,0.1422)(0.195,0.1432)(0.192,0.1443)(0.202,0.1385)(0.214,0.1411)(0.223,0.1419)(0.229,0.1292)(0.228,0.1281)(0.237,0.124)(0.234,0.1208)(0.231,0.1185)(0.242,0.1182)(0.238,0.1138)(0.241,0.1138)(0.248,0.1133)(0.232,0.1117)(0.238,0.145)(0.240,0.1427)(0.238,0.1401)(0.253,0.1273)(0.258,0.1328)(0.262,0.1349)(0.262,0.137)(0.265,0.1396)(0.269,0.129)(0.267,0.1185)(0.270,0.1165)(0.274,0.1125)(0.278,0.1115)(0.272,0.107)(0.276,0.105)(0.278,0.1021)(0.284,0.101)(0.291,0.107)(0.289,0.113)(0.298,0.1146)(0.304,0.112)(0.311,0.1117)(0.307,0.1094)(0.298,0.1029)(0.302,0.1047)(0.309,0.1023)(0.316,0.1036)(0.302,0.0988)(0.295,0.0953)(0.312,0.0943)(0.303,0.0794)(0.258,0.0755)(0.266,0.0833)(0.238,0.0857)(0.249,0.0901)(0.250,0.0969)(0.255,0.0953)(0.257,0.0943)(0.264,0.1007)(0.359,0.0807)(0.331,0.0857)(0.338,0.0846)(0.344,0.0899)(0.337,0.0925)(0.334,0.0988)(0.346,0.0966)(0.356,0.0995)(0.370,0.101)(0.367,0.0971)(0.371,0.0958)(0.375,0.0943)(0.411,0.0922)(0.416,0.0898)(0.416,0.1026)(0.393,0.1042)(0.385,0.1099)(0.379,0.1151)(0.393,0.1146)(0.401,0.1094)(0.406,0.1141)(0.414,0.1115)(0.416,0.1156)(0.409,0.119)(0.404,0.1208)(0.396,0.1193)(0.391,0.1188)(0.384,0.1182)(0.377,0.1182)(0.370,0.113)(0.364,0.1128)(0.358,0.1073)(0.363,0.1224)(0.361,0.125)(0.356,0.1214)(0.348,0.1203)(0.342,0.1198)(0.336,0.1203)(0.335,0.1172)(0.338,0.1141)(0.342,0.1115)(0.347,0.1104)(0.356,0.1172)(0.362,0.1156)(0.342,0.1234)(0.334,0.1227)(0.340,0.1259)(0.346,0.1266)(0.340,0.1292)(0.355,0.1297)(0.365,0.1297)(0.374,0.1281)(0.382,0.1307)(0.389,0.1289)(0.401,0.126)(0.406,0.1263)(0.410,0.125)(0.385,0.1234)(0.334,0.134)(0.320,0.1297)(0.323,0.1318)(0.314,0.1286)(0.313,0.126)(0.307,0.1375)(0.320,0.1375)(0.326,0.1359)(0.330,0.134)(0.319,0.1401)(0.324,0.1432)(0.328,0.1448)(0.323,0.1469)(0.314,0.1422)(0.309,0.1432)(0.307,0.1448)(0.304,0.139)(0.303,0.1365)(0.309,0.1479)(0.315,0.149)(0.320,0.1495)(0.324,0.15)(0.328,0.1521)(0.323,0.1542)(0.318,0.1557)(0.310,0.1589)(0.304,0.1568)(0.299,0.1521)(0.297,0.1563)(0.293,0.1573)(0.283,0.151)(0.284,0.1453)(0.282,0.1417)(0.285,0.1479)(0.289,0.1484)(0.288,0.1547)(0.291,0.1583)(0.283,0.1635)(0.291,0.1656)(0.301,0.1667)(0.310,0.1658)(0.280,0.1656)(0.283,0.1675)(0.272,0.1615)(0.266,0.1688)(0.258,0.1615)(0.253,0.162)(0.250,0.1554)(0.251,0.1516)(0.262,0.1573)(0.265,0.1661)(0.258,0.1644)(0.241,0.1608)(0.223,0.1646)(0.218,0.1653)(0.221,0.163)(0.230,0.1648)(0.218,0.1589)(0.207,0.1667)(0.199,0.1635)(0.196,0.1625)(0.191,0.1615)(0.187,0.1599)(0.184,0.1573)(0.192,0.1526)(0.198,0.1536)(0.202,0.1563)(0.211,0.1563)(0.200,0.1505)(0.189,0.149)(0.186,0.1464)(0.195,0.1469)(0.202,0.1479)(0.175,0.149)(0.170,0.1531)(0.172,0.1435)(0.162,0.1458)(0.164,0.1438)(0.160,0.1484)(0.164,0.1583)(0.171,0.1583)(0.175,0.1646)(0.183,0.1667)(0.198,0.1679)(0.213,0.1677)(0.159,0.163)(0.152,0.1617)(0.166,0.1679)(0.154,0.1656)
(0.299,0.2344)(0.287,0.2302)(0.287,0.2219)(0.283,0.2208)(0.264,0.2276)(0.272,0.2167)(0.263,0.2161)(0.277,0.212)(0.280,0.2109)(0.291,0.2167)(0.231,0.2177)(0.240,0.2125)(0.262,0.2115)(0.377,0.2458)(0.363,0.2479)(0.358,0.2156)(0.363,0.2151)(0.377,0.2144)(0.387,0.2068)(0.373,0.2005)(0.365,0.2052)(0.358,0.2042)(0.291,0.2016)(0.293,0.201)(0.283,0.199)(0.288,0.1995)(0.275,0.2026)(0.279,0.2052)(0.266,0.201)(0.257,0.201)(0.250,0.2021)(0.268,0.199)(0.308,0.1943)(0.327,0.1906)(0.339,0.1885)(0.346,0.1885)(0.353,0.1891)(0.356,0.1911)(0.371,0.1891)(0.339,0.1854)(0.328,0.1828)(0.330,0.1813)(0.336,0.1786)(0.344,0.1776)(0.350,0.1776)(0.363,0.1813)(0.370,0.1786)(0.377,0.1771)(0.382,0.1797)(0.386,0.176)(0.392,0.175)(0.342,0.176)(0.344,0.1734)(0.339,0.1719)(0.350,0.1708)(0.334,0.1708)(0.327,0.1719)(0.320,0.174)(0.317,0.1771)(0.307,0.1849)(0.301,0.1859)(0.293,0.1854)(0.289,0.1865)(0.304,0.1792)(0.301,0.1755)(0.297,0.1719)(0.305,0.1688)(0.312,0.1677)(0.323,0.1677)(0.334,0.1698)(0.347,0.1698)(0.362,0.1677)(0.370,0.1698)(0.374,0.174)(0.383,0.1729)(0.392,0.1651)(0.371,0.1651)(0.340,0.1635)(0.328,0.162)(0.323,0.1617)(0.315,0.163)(0.301,0.1609)(0.291,0.1615)(0.277,0.1609)(0.265,0.1625)(0.253,0.1635)(0.245,0.1682)(0.250,0.1651)(0.260,0.1651)(0.271,0.1661)(0.284,0.174)(0.279,0.1781)(0.280,0.1896)(0.288,0.1896)(0.272,0.1932)(0.266,0.1917)(0.260,0.1896)(0.263,0.1854)(0.257,0.1833)(0.264,0.1813)(0.252,0.1776)(0.258,0.1714)(0.238,0.1849)(0.232,0.1833)(0.229,0.1797)(0.237,0.1729)(0.231,0.1703)(0.237,0.1667)(0.230,0.1651)(0.226,0.1641)(0.218,0.1661)(0.215,0.1724)(0.221,0.175)(0.213,0.1792)(0.207,0.1802)(0.202,0.1786)(0.197,0.1833)(0.206,0.1854)(0.213,0.1969)(0.205,0.1969)(0.195,0.199)(0.231,0.2094)(0.226,0.2063)(0.227,0.1938)(0.240,0.1958)(0.250,0.1943)(0.242,0.1906)(0.191,0.1708)(0.186,0.1724)(0.199,0.1734)(0.186,0.1656)(0.178,0.1651)(0.172,0.175)(0.164,0.176)(0.159,0.1734)(0.166,0.1688)(0.155,0.1802)(0.174,0.1896)(0.144,0.187)(0.128,0.1698)(0.140,0.1656)(0.151,0.1625)(0.129,0.1583)(0.143,0.1604)(0.151,0.1573)(0.159,0.1578)(0.124,0.1573)(0.197,0.1594)(0.210,0.1594)(0.219,0.1625)(0.228,0.1604)(0.241,0.1604)(0.249,0.1563)(0.287,0.1552)(0.300,0.1573)(0.334,0.1583)(0.342,0.1563)(0.370,0.1604)(0.385,0.1615)(0.393,0.1542)(0.373,0.1568)(0.370,0.1844)
(0.523,0.1755)(0.572,0.1736)(0.542,0.1719)(0.550,0.1706)(0.509,0.1685)(0.531,0.1661)(0.448,0.1729)(0.427,0.1734)(0.443,0.1677)(0.410,0.183)(0.429,0.1627)(0.474,0.1638)(0.460,0.1604)(0.419,0.1599)(0.589,0.1599)(0.589,0.1521)(0.496,0.1568)(0.469,0.1565)(0.441,0.1552)(0.445,0.1542)(0.453,0.1531)(0.461,0.1521)(0.455,0.155)(0.418,0.1518)(0.438,0.1517)(0.423,0.1489)(0.434,0.1505)(0.437,0.1484)(0.444,0.1481)(0.446,0.1464)(0.450,0.146)(0.458,0.1492)(0.462,0.1471)(0.470,0.1474)(0.413,0.146)(0.411,0.1443)(0.423,0.1429)(0.405,0.1391)(0.415,0.1406)(0.423,0.1385)(0.433,0.1391)(0.435,0.1375)(0.438,0.137)(0.445,0.1422)(0.446,0.1385)(0.453,0.1427)(0.455,0.1406)(0.446,0.1342)(0.449,0.1359)(0.450,0.1333)(0.447,0.1286)(0.441,0.1307)(0.426,0.1333)(0.432,0.1297)(0.414,0.1363)(0.409,0.1333)(0.411,0.1307)(0.409,0.1281)(0.414,0.1255)(0.419,0.1255)(0.430,0.1271)(0.433,0.1229)(0.421,0.1234)(0.414,0.1229)(0.445,0.1224)(0.441,0.1208)(0.415,0.1198)(0.408,0.1198)(0.410,0.1177)(0.419,0.1151)(0.408,0.1141)(0.417,0.112)(0.420,0.1106)(0.423,0.1096)(0.410,0.0979)(0.454,0.1078)(0.458,0.1057)(0.464,0.1081)(0.467,0.1099)(0.470,0.1135)(0.466,0.1148)(0.459,0.1167)(0.464,0.1229)(0.462,0.1258)(0.457,0.1266)(0.468,0.1276)(0.469,0.1325)(0.476,0.1302)(0.482,0.1208)(0.485,0.124)(0.484,0.1172)(0.491,0.1161)(0.483,0.113)(0.484,0.1099)(0.489,0.1104)(0.495,0.1104)(0.497,0.1085)(0.500,0.1075)(0.508,0.1083)(0.511,0.1094)(0.515,0.1096)(0.507,0.113)(0.499,0.1198)(0.495,0.1231)(0.502,0.1221)(0.483,0.1031)(0.495,0.1031)(0.491,0.101)(0.484,0.1005)(0.500,0.099)(0.530,0.0929)(0.516,0.0906)(0.495,0.0898)(0.523,0.0813)(0.537,0.0776)(0.544,0.069)(0.543,0.087)(0.541,0.0859)(0.548,0.0898)(0.551,0.1005)(0.550,0.1026)(0.555,0.1021)(0.561,0.1031)(0.547,0.0958)(0.552,0.1161)(0.559,0.125)(0.552,0.125)(0.554,0.1273)(0.543,0.1265)(0.546,0.1313)(0.548,0.1333)(0.559,0.1339)(0.556,0.1313)(0.535,0.1229)(0.532,0.136)(0.509,0.1456)(0.522,0.1432)(0.506,0.1409)(0.516,0.1415)(0.513,0.1391)(0.499,0.1453)(0.485,0.145)(0.570,0.1438)(0.581,0.1346)(0.594,0.136)(0.593,0.1388)(0.598,0.1388)(0.591,0.1283)(0.626,0.1229)(0.630,0.1177)(0.610,0.1167)(0.617,0.1161)(0.600,0.1144)(0.605,0.1104)(0.594,0.1094)(0.603,0.105)(0.617,0.1054)(0.623,0.1115)(0.626,0.1099)(0.624,0.1068)(0.632,0.1075)(0.634,0.1102)(0.624,0.1031)(0.618,0.101)(0.620,0.0995)(0.625,0.0984)(0.617,0.0979)(0.608,0.0958)(0.605,0.0974)(0.591,0.0974)(0.584,0.0958)(0.587,0.0917)(0.598,0.0927)(0.601,0.0906)(0.605,0.0896)(0.597,0.0896)(0.590,0.087)(0.582,0.0854)(0.580,0.0851)(0.593,0.076)(0.600,0.0792)(0.606,0.0807)(0.617,0.0792)(0.619,0.0807)(0.624,0.0917)(0.620,0.0938)(0.624,0.0896)(0.626,0.0849)(0.634,0.0854)(0.636,0.0818)(0.640,0.0813)(0.644,0.0802)(0.638,0.0781)(0.638,0.075)(0.646,0.0849)(0.649,0.0865)(0.646,0.088)(0.644,0.0927)(0.645,0.0969)(0.638,0.0917)(0.639,0.1)(0.641,0.1016)(0.653,0.0969)(0.659,0.0984)(0.648,0.0958)(0.668,0.0953)(0.669,0.1036)(0.672,0.1083)(0.647,0.1214)(0.680,0.0849)(0.691,0.0842)(0.701,0.0885)(0.707,0.0876)(0.716,0.087)(0.702,0.0792)(0.717,0.0979)(0.712,0.1005)(0.706,0.1016)(0.702,0.1089)(0.718,0.117)(0.720,0.1115)(0.730,0.1266)(0.731,0.1219)(0.739,0.1117)(0.743,0.1066)(0.749,0.0974)(0.738,0.0943)(0.735,0.1005)(0.728,0.0938)(0.746,0.0813)(0.750,0.0911)(0.745,0.0885)(0.711,0.0667)(0.707,0.0672)
(0.727,0.0833)(0.744,0.0785)(0.752,0.0737)(0.785,0.0705)(0.793,0.0769)(0.797,0.0673)(0.810,0.0625)(0.814,0.0721)(0.826,0.0737)(0.834,0.0769)(0.847,0.0609)(0.855,0.0545)(0.867,0.0577)(0.859,0.0967)(0.859,0.1183)(0.847,0.1136)(0.830,0.0967)(0.843,0.0737)(0.867,0.0785)(0.872,0.0753)(0.855,0.0833)(0.818,0.0434)(0.814,0.0466)(0.783,0.0896)(0.777,0.0849)(0.764,0.0801)(0.736,0.0673)(0.727,0.0577)(0.711,0.0673)(0.703,0.0721)(0.694,0.0769)(0.682,0.0705)(0.670,0.0785)(0.661,0.0737)(0.649,0.0785)(0.641,0.0705)(0.628,0.0801)(0.653,0.0641)(0.653,0.1694)(0.563,0.171)(0.583,0.1662)(0.612,0.0705)(0.596,0.0577)(0.596,0.0466)(0.546,0.0721)(0.567,0.0625)(0.579,0.0689)
(0.188,0.0714)(0.297,0.0759)(0.348,0.0794)(0.412,0.0807)(0.273,0.0864)(0.287,0.0954)
(0.390,0.1072)(0.402,0.096)(0.414,0.104)(0.423,0.0976)(0.427,0.0944)(0.431,0.112)(0.418,0.1167)(0.447,0.1247)(0.439,0.1311)(0.431,0.1359)(0.418,0.1391)(0.447,0.1391)(0.451,0.1439)(0.472,0.1231)(0.365,0.112)(0.377,0.1024)(0.398,0.112)(0.410,0.1247)
};

% Old
\addplot[forget plot, only marks, mark=triangle*, mark size=1.0pt, blue, mark options={draw=blue, fill=blue, line width=0.1pt, yscale=1.155}] coordinates {
(0.023,0.032)(0.026,0.036)(0.028,0.042)(0.030,0.039)(0.033,0.046)(0.035,0.053)(0.037,0.056)(0.040,0.050)(0.041,0.060)(0.044,0.061)(0.045,0.065)(0.047,0.070)(0.051,0.070)(0.054,0.066)(0.056,0.059)(0.058,0.075)(0.063,0.074)(0.064,0.068)(0.070,0.075)(0.075,0.065)(0.064,0.053)(0.036,0.034)(0.036,0.026)(0.037,0.024)(0.031,0.044)(0.034,0.049)(0.038,0.047)(0.032,0.037)(0.039,0.052)(0.042,0.057)(0.043,0.054)(0.046,0.062)(0.029,0.035)(0.040,0.043)
(0.047,0.087)(0.051,0.099)(0.050,0.085)(0.051,0.090)(0.070,0.101)(0.072,0.097)(0.070,0.089)(0.078,0.095)(0.078,0.103)(0.083,0.088)(0.091,0.088)(0.093,0.098)(0.091,0.101)(0.094,0.102)(0.081,0.106)(0.070,0.109)(0.090,0.104)(0.082,0.109)(0.093,0.110)(0.099,0.108)(0.103,0.106)(0.091,0.118)(0.082,0.116)(0.076,0.135)(0.098,0.135)(0.106,0.112)(0.113,0.118)(0.109,0.115)(0.107,0.122)(0.119,0.121)(0.123,0.118)(0.119,0.126)(0.103,0.127)(0.109,0.129)(0.123,0.131)(0.129,0.131)(0.130,0.133)(0.119,0.134)(0.113,0.135)(0.106,0.137)(0.117,0.137)(0.122,0.137)(0.127,0.137)(0.118,0.138)(0.122,0.141)(0.123,0.145)(0.129,0.145)(0.136,0.144)(0.132,0.147)(0.127,0.146)(0.121,0.145)(0.119,0.152)(0.140,0.149)(0.144,0.151)(0.139,0.154)(0.134,0.155)(0.142,0.157)(0.157,0.150)(0.156,0.129)(0.166,0.159)(0.171,0.153)(0.181,0.159)(0.191,0.160)(0.152,0.163)(0.144,0.164)(0.116,0.164)(0.131,0.168)(0.139,0.169)(0.144,0.170)(0.144,0.166)(0.186,0.171)(0.193,0.170)(0.205,0.168)(0.277,0.168)(0.323,0.169)(0.321,0.165)(0.081,0.100)(0.082,0.093)
(0.315,0.3065)(0.336,0.308)(0.369,0.3085)(0.372,0.3036)(0.349,0.302)(0.304,0.300)(0.295,0.296)(0.304,0.296)(0.309,0.295)(0.283,0.295)(0.330,0.296)(0.346,0.297)(0.358,0.296)(0.338,0.290)(0.354,0.290)(0.350,0.2875)(0.344,0.286)(0.280,0.288)(0.292,0.285)(0.314,0.284)(0.322,0.2846)(0.327,0.286)(0.268,0.284)(0.274,0.282)(0.331,0.281)(0.335,0.281)(0.346,0.283)(0.312,0.281)(0.263,0.280)(0.306,0.276)(0.352,0.276)(0.338,0.2755)(0.338,0.273)(0.345,0.274)(0.351,0.273)(0.311,0.273)(0.362,0.271)(0.319,0.269)(0.327,0.270)(0.332,0.2685)(0.337,0.2685)(0.349,0.268)(0.314,0.268)(0.332,0.2672)(0.267,0.2665)(0.258,0.266)(0.284,0.2665)(0.300,0.268)(0.313,0.2656)(0.321,0.266)(0.329,0.2667)(0.335,0.2646)(0.290,0.2644)(0.301,0.2635)(0.294,0.2625)(0.351,0.2644)(0.375,0.2648)(0.392,0.2625)(0.372,0.2623)(0.262,0.2622)(0.253,0.2604)(0.308,0.2594)(0.318,0.2604)(0.328,0.2602)(0.334,0.2606)(0.340,0.2589)(0.351,0.2604)(0.287,0.2578)(0.309,0.2573)(0.323,0.2583)(0.327,0.2578)(0.333,0.2578)(0.342,0.2583)(0.353,0.2583)(0.371,0.2592)(0.377,0.2578)(0.371,0.2573)(0.293,0.2552)(0.302,0.2552)(0.308,0.2557)(0.323,0.2557)(0.337,0.2552)(0.350,0.2556)(0.358,0.2578)(0.365,0.2531)(0.343,0.2531)(0.348,0.2526)(0.359,0.2521)(0.369,0.2523)(0.386,0.2516)(0.398,0.2531)(0.290,0.2531)(0.302,0.2505)(0.310,0.2505)(0.314,0.2495)(0.326,0.251)(0.331,0.2495)(0.344,0.2488)(0.348,0.25)(0.355,0.2495)(0.362,0.2495)(0.378,0.2492)(0.382,0.251)(0.234,0.2508)(0.243,0.2492)(0.249,0.2523)(0.217,0.2533)(0.279,0.2479)(0.287,0.2479)(0.293,0.2469)(0.306,0.2471)(0.336,0.2469)(0.346,0.2471)(0.352,0.2466)(0.359,0.246)(0.374,0.2464)(0.384,0.2458)(0.394,0.2443)(0.277,0.2448)(0.285,0.2438)(0.293,0.2427)(0.301,0.2443)(0.315,0.2438)(0.328,0.2448)(0.335,0.2443)(0.355,0.2443)(0.367,0.2443)(0.379,0.2448)(0.231,0.2432)(0.244,0.2433)(0.228,0.2419)(0.266,0.2422)(0.273,0.2411)(0.281,0.2401)(0.291,0.2406)(0.297,0.2417)(0.319,0.2417)(0.344,0.2417)(0.350,0.2406)(0.359,0.2404)(0.371,0.2396)(0.379,0.2396)(0.399,0.2396)(0.260,0.2406)(0.271,0.2385)(0.280,0.2373)(0.294,0.2382)(0.304,0.2385)(0.332,0.2385)(0.336,0.238)(0.342,0.2375)(0.354,0.2375)(0.362,0.237)(0.377,0.2375)(0.385,0.237)(0.394,0.2365)(0.399,0.2352)(0.219,0.2398)(0.238,0.238)(0.248,0.2375)(0.252,0.2368)(0.268,0.2352)(0.277,0.2349)(0.288,0.2344)(0.298,0.2346)(0.320,0.2344)(0.331,0.2342)(0.344,0.2339)(0.347,0.2323)(0.358,0.2323)(0.363,0.2344)(0.370,0.2352)(0.374,0.2325)(0.379,0.2323)(0.390,0.2323)(0.395,0.2328)(0.210,0.2352)(0.204,0.2328)(0.227,0.231)(0.234,0.231)(0.250,0.2323)(0.272,0.2325)(0.281,0.2321)(0.304,0.2323)(0.311,0.2318)(0.316,0.2307)(0.327,0.2302)(0.338,0.2297)(0.344,0.2297)(0.353,0.2302)(0.350,0.2286)(0.355,0.2286)(0.359,0.2294)(0.373,0.2286)(0.378,0.2281)(0.385,0.2281)(0.391,0.2292)(0.215,0.229)(0.250,0.229)(0.261,0.2283)(0.269,0.2292)(0.295,0.2292)(0.305,0.2281)(0.323,0.2271)(0.315,0.2266)(0.331,0.2271)(0.336,0.226)(0.344,0.2255)(0.347,0.224)(0.352,0.2245)(0.358,0.224)(0.367,0.2245)(0.385,0.2248)(0.392,0.2229)(0.381,0.2234)(0.280,0.226)(0.287,0.225)(0.293,0.226)(0.302,0.226)(0.269,0.2234)(0.280,0.2224)(0.293,0.2221)(0.309,0.2234)(0.324,0.224)(0.327,0.2214)(0.335,0.224)(0.348,0.2224)(0.363,0.2214)(0.373,0.2214)(0.382,0.2214)(0.390,0.2206)(0.250,0.2228)(0.257,0.2255)(0.192,0.2234)
(0.233,0.2188)(0.241,0.2188)(0.256,0.2198)(0.268,0.2203)(0.279,0.2177)(0.289,0.2177)(0.297,0.2179)(0.319,0.2177)(0.332,0.2172)(0.351,0.2188)(0.365,0.219)(0.373,0.2177)(0.383,0.2177)(0.391,0.2156)(0.395,0.213)(0.190,0.2172)(0.195,0.2177)(0.201,0.2151)(0.234,0.2146)(0.257,0.2167)(0.270,0.2151)(0.280,0.2161)(0.289,0.2151)(0.299,0.2161)(0.309,0.2151)(0.320,0.2167)(0.334,0.2167)(0.339,0.2141)(0.344,0.2151)(0.358,0.2135)(0.365,0.212)(0.374,0.2151)(0.377,0.2167)(0.175,0.213)(0.205,0.2089)(0.228,0.2109)(0.242,0.2089)(0.257,0.2135)(0.279,0.2135)(0.293,0.212)(0.302,0.2109)(0.318,0.2115)(0.327,0.2109)(0.335,0.2094)(0.350,0.2104)(0.354,0.2089)(0.362,0.2109)(0.369,0.2115)(0.377,0.2089)(0.385,0.2094)(0.393,0.212)(0.181,0.2083)(0.187,0.2031)(0.195,0.2031)(0.201,0.2031)(0.207,0.199)(0.221,0.1964)(0.228,0.1992)(0.243,0.2078)(0.248,0.2016)(0.257,0.2031)(0.272,0.2042)(0.281,0.2052)(0.289,0.2047)(0.296,0.2063)(0.300,0.2047)(0.308,0.2052)(0.314,0.2063)(0.324,0.2021)(0.332,0.2042)(0.344,0.2063)(0.354,0.2068)(0.361,0.2052)(0.379,0.2068)(0.389,0.2052)(0.395,0.2052)(0.154,0.2047)(0.145,0.1977)(0.158,0.195)(0.180,0.1974)(0.186,0.1974)(0.207,0.1984)(0.213,0.1938)(0.240,0.1979)(0.250,0.199)(0.258,0.2)(0.266,0.201)(0.279,0.2005)(0.280,0.1969)(0.287,0.2)(0.296,0.199)(0.304,0.2)(0.309,0.1979)(0.314,0.2)(0.323,0.2016)(0.338,0.201)(0.361,0.199)(0.383,0.201)(0.379,0.1979)(0.387,0.1995)(0.285,0.1948)(0.293,0.1953)(0.303,0.1964)(0.309,0.1948)(0.319,0.1958)(0.327,0.1969)(0.353,0.1969)(0.361,0.1948)(0.150,0.1844)(0.159,0.1828)(0.167,0.1823)(0.175,0.1797)(0.188,0.1917)(0.194,0.1906)(0.206,0.1885)(0.229,0.188)(0.234,0.1891)(0.248,0.1927)(0.249,0.1885)(0.261,0.1911)(0.276,0.1922)(0.287,0.1901)(0.311,0.1875)(0.319,0.1865)(0.327,0.1901)(0.332,0.188)(0.375,0.1885)(0.385,0.1792)(0.379,0.1875)(0.163,0.1781)(0.171,0.1776)(0.177,0.1771)(0.170,0.174)(0.186,0.174)(0.191,0.1698)(0.205,0.1771)(0.213,0.1771)(0.226,0.1771)(0.234,0.174)(0.252,0.175)(0.279,0.1766)(0.293,0.1783)(0.382,0.1714)(0.132,0.1617)(0.151,0.1656)(0.162,0.1677)(0.164,0.1635)(0.175,0.1615)(0.183,0.1635)(0.205,0.1656)(0.213,0.1682)(0.220,0.1573)(0.318,0.1651)(0.370,0.1615)
(0.348,0.3295)(0.371,0.318)(0.367,0.317)(0.337,0.310)(0.346,0.3145)(0.334,0.305)(0.354,0.302)(0.373,0.307)(0.369,0.303)
(0.399,0.259)(0.414,0.266)(0.439,0.267)(0.427,0.262)(0.406,0.252)(0.421,0.246)(0.436,0.252)(0.406,0.240)(0.431,0.240)(0.447,0.230)(0.447,0.220)(0.418,0.227)(0.410,0.217)(0.425,0.211)(0.404,0.2045)(0.414,0.198)(0.406,0.1885)(0.390,0.179)(0.384,0.1726)(0.503,0.220)(0.513,0.2198)(0.528,0.2217)(0.518,0.201)(0.536,0.195)(0.532,0.1885)(0.528,0.1837)(0.530,0.179)(0.536,0.1796)(0.532,0.169)(0.460,0.2045)(0.468,0.198)(0.464,0.1917)(0.373,0.198)(0.365,0.1853)
(0.431,0.1995)(0.409,0.1963)(0.446,0.1969)(0.443,0.1939)(0.469,0.1942)(0.500,0.1985)(0.518,0.1966)(0.527,0.1951)(0.443,0.1901)(0.455,0.1893)(0.410,0.1814)(0.527,0.19)(0.523,0.1883)(0.521,0.1821)(0.525,0.1825)(0.531,0.1821)(0.524,0.1745)(0.525,0.175)(0.521,0.1688)
};
\end{axis}
\end{tikzpicture}
\end{document}
